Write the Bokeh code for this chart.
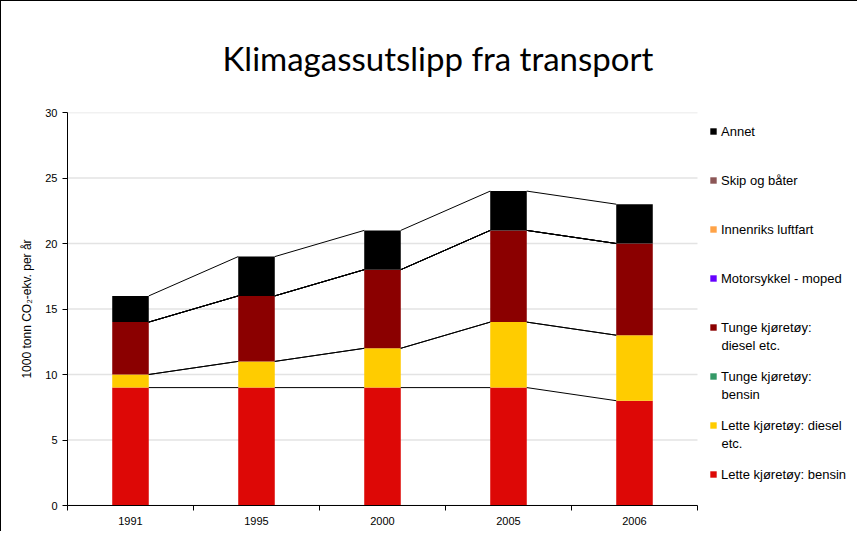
import numpy as np
from bokeh.plotting import figure
from bokeh.models import FixedTicker, Legend, LegendItem, ColumnDataSource, Range1d, Label
from bokeh.embed import file_html
from bokeh.resources import INLINE

# ---- data ----
years = ["1991", "1995", "2000", "2005", "2006"]
lette_bensin = [9, 9, 9, 9, 8]
lette_diesel = [1, 2, 3, 5, 5]
tunge_bensin = [0, 0, 0, 0, 0]
tunge_diesel = [4, 5, 6, 7, 7]
motorsykkel = [0, 0, 0, 0, 0]
innenriks_luftfart = [0, 0, 0, 0, 0]
skip_baater = [0, 0, 0, 0, 0]
annet = [2, 3, 3, 3, 3]

# legend names (first line, continuation line)
series_names = [("Lette kjøretøy: bensin", ""), ("Lette kjøretøy: diesel", "etc."),
                ("Tunge kjøretøy:", "bensin"), ("Tunge kjøretøy:", "diesel etc."),
                ("Motorsykkel - moped", ""), ("Innenriks luftfart", ""),
                ("Skip og båter", ""), ("Annet", "")]
series_values = [lette_bensin, lette_diesel, tunge_bensin, tunge_diesel,
                 motorsykkel, innenriks_luftfart, skip_baater, annet]
series_colors = ["#dd0806", "#ffcc00", "#339966", "#8b0000",
                 "#6600ff", "#ffa347", "#8c5656", "#000000"]
y_ticks = [0, 5, 10, 15, 20, 25, 30]

keys = ["s%d" % i for i in range(len(series_values))]
xs = list(range(len(years)))
data = {"x": xs}
for k, v in zip(keys, series_values):
    data[k] = v
src = ColumnDataSource(data)

BW = 0.29
FRAME_H = 393
BAR_AREA_W = 630
FRAME_W = 790
x_lo, x_hi = -0.5, len(years) - 0.5
x_end = x_lo + (x_hi - x_lo) * FRAME_W / BAR_AREA_W

p = figure(frame_width=FRAME_W, frame_height=FRAME_H, output_backend="svg",
           toolbar_location=None,
           x_range=Range1d(x_lo, x_end), y_range=Range1d(0, 30),
           min_border_left=66, min_border_right=0, min_border_top=110,
           min_border_bottom=26)
p.outline_line_color = None
p.background_fill_color = "white"
p.border_fill_color = "white"
p.xgrid.grid_line_color = None
p.ygrid.grid_line_color = None

# horizontal gridlines limited to the category area
p.segment(x0=[x_lo] * len(y_ticks), x1=[x_hi] * len(y_ticks), y0=y_ticks, y1=y_ticks,
          line_color="#e3e3e3", line_width=1.5)

renderers = p.vbar_stack(keys, x="x", width=BW, source=src, color=series_colors,
                         line_color=None)

# series lines connecting stack levels
cum = np.cumsum(np.array(series_values, dtype=float), axis=0)
for level in cum:
    p.segment(x0=[x + BW / 2 for x in xs[:-1]], y0=level[:-1],
              x1=[x - BW / 2 for x in xs[1:]], y1=level[1:],
              line_color="black", line_width=1)

# axes
p.xaxis.bounds = (x_lo, x_hi)
p.xaxis.ticker = FixedTicker(ticks=xs, minor_ticks=[x - 0.5 for x in xs] + [xs[-1] + 0.5])
p.xaxis.major_label_overrides = {x: y for x, y in zip(xs, years)}
p.xaxis.major_tick_out = 0
p.xaxis.major_tick_in = 0
p.xaxis.minor_tick_out = 5
p.xaxis.minor_tick_in = 0
p.xaxis.minor_tick_line_color = "black"
p.xaxis.axis_line_color = "black"
p.xaxis.major_label_text_font = "Liberation Sans"
p.xaxis.major_label_text_font_size = "11px"
p.xaxis.major_label_text_color = "black"
p.xaxis.major_label_standoff = 6

p.yaxis.ticker = FixedTicker(ticks=y_ticks, minor_ticks=[])
p.yaxis.major_tick_out = 5
p.yaxis.major_tick_in = 0
p.yaxis.axis_line_color = "black"
p.yaxis.major_tick_line_color = "black"
p.yaxis.major_label_text_font = "Liberation Sans"
p.yaxis.major_label_text_font_size = "11px"
p.yaxis.major_label_text_color = "black"
p.yaxis.axis_label = "1000 tonn CO\u2082-ekv. per år"
p.yaxis.axis_label_text_font = "Liberation Sans"
p.yaxis.axis_label_text_font_size = "12px"
p.yaxis.axis_label_text_font_style = "normal"
p.yaxis.axis_label_text_color = "black"
p.yaxis.axis_label_standoff = 8

p.title.text = "Klimagassutslipp fra transport"
p.title.text_font = "Lato"
p.title.text_font_size = "33px"
p.title.text_font_style = "normal"
p.title.text_color = "black"
p.title.align = "left"
p.title.offset = 155
p.title.standoff = 69

# legend (first lines) + continuation lines as labels
LEG_X = 642
ITEM_H = 36
SPACING = 13
GLYPH = 8
STANDOFF = 4
n = len(series_names)
leg_h = n * ITEM_H + (n - 1) * SPACING
leg_bottom = FRAME_H - 1 - leg_h
items = [LegendItem(label=nm[0], renderers=[r])
         for nm, r in zip(series_names, renderers)][::-1]
legend = Legend(items=items, location=(LEG_X, leg_bottom), label_text_font="Liberation Sans",
                label_text_font_size="13px", label_text_color="black",
                glyph_width=GLYPH, glyph_height=GLYPH,
                label_standoff=STANDOFF, spacing=SPACING, label_height=ITEM_H,
                padding=0, margin=0, border_line_color=None, background_fill_alpha=0)
p.add_layout(legend, "center")

for i, nm in enumerate(series_names[::-1]):
    if nm[1]:
        center_y = FRAME_H - 1 - ITEM_H / 2 - i * (ITEM_H + SPACING)
        p.add_layout(Label(x=LEG_X + GLYPH + STANDOFF, y=center_y - 18, x_units="screen",
                           y_units="screen", text=nm[1], text_font="Liberation Sans",
                           text_font_size="13px", text_color="black",
                           text_baseline="middle", text_align="left"))

p.styles = {"border-left": "1.5px solid black", "border-top": "1.5px solid black"}

open("out.html", "w").write(file_html(p, INLINE))
